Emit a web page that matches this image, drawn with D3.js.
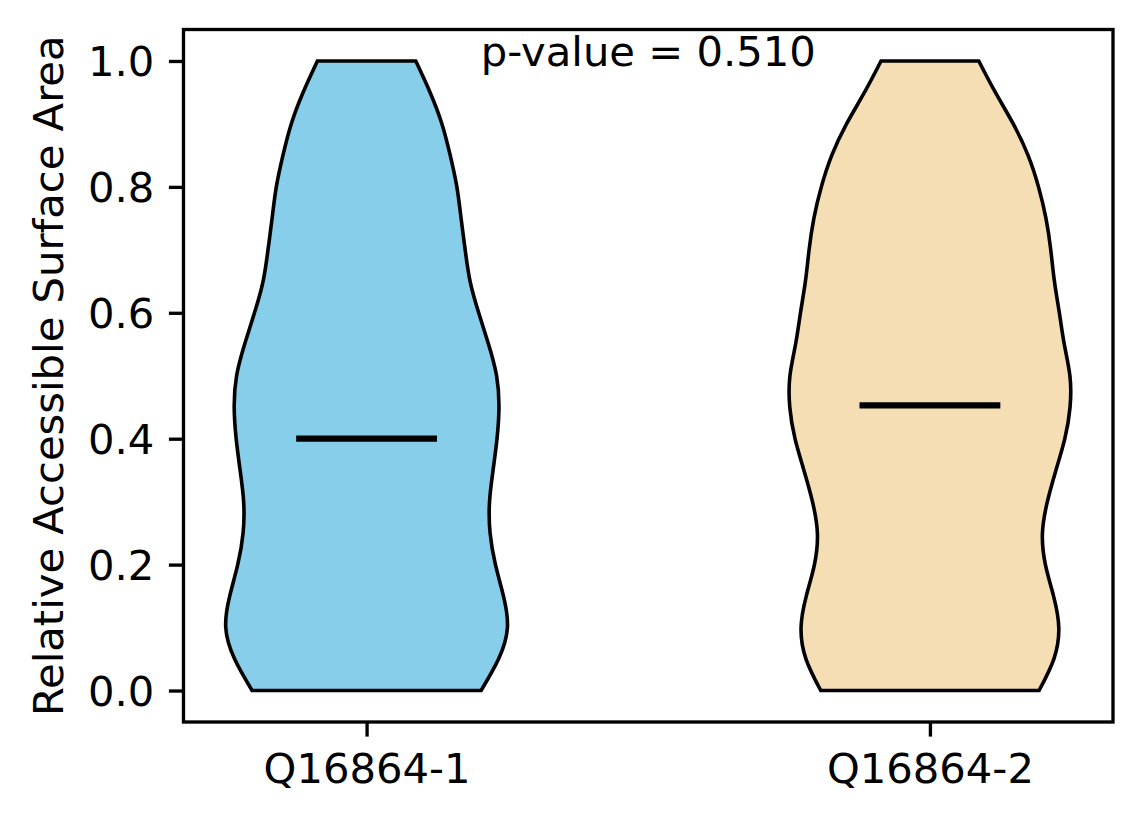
<!DOCTYPE html>
<html>
<head>
<meta charset="utf-8">
<script src="https://cdn.jsdelivr.net/npm/d3@7"></script>
<style>
  html, body { margin: 0; padding: 0; background: #fff; }
  text { font-family: "DejaVu Sans", sans-serif; }
</style>
</head>
<body>
<svg id="chart" width="1144" height="824"></svg>
<script>
// ---- data ----
const categories = ["Q16864-1", "Q16864-2"];
const positions = [1, 2];
const colors = ["#87CEEB", "#F5DEB3"];
// value grid for the violin density outlines
const valueGrid = [0.00,0.05,0.10,0.15,0.20,0.25,0.30,0.35,0.40,0.45,0.50,0.55,0.60,0.65,0.70,0.75,0.80,0.85,0.90,0.95,1.00];
// normalised kernel density (max = 1) at each grid value
const density1 = [0.813,0.937,1.000,0.972,0.915,0.877,0.873,0.898,0.926,0.940,0.923,0.866,0.796,0.735,0.700,0.671,0.641,0.594,0.535,0.451,0.349];
const density2 = [0.775,0.880,0.915,0.878,0.820,0.799,0.834,0.895,0.958,0.995,0.994,0.954,0.919,0.884,0.858,0.824,0.771,0.697,0.592,0.465,0.347];
const medians = [0.400, 0.453];
const yTicks = [0.0, 0.2, 0.4, 0.6, 0.8, 1.0];
const yLabel = "Relative Accessible Surface Area";
const annotation = "p-value = 0.510";

// ---- layout ----
const svg = d3.select("#chart");
const L = 183.5, R = 1113, T = 29.5, B = 722;
const fs = 41.7;
const violinWidth = 0.5;

const x = d3.scaleLinear().domain([0.675, 2.325]).range([L, R]);
const y = d3.scaleLinear().domain([-0.05, 1.05]).range([B, T]);

svg.append("rect").attr("width", 1144).attr("height", 824).attr("fill", "#fff");

const densities = [density1, density2];
const g = svg.append("g");

densities.forEach((dens, i) => {
  const pos = positions[i];
  const pts = valueGrid.map((v, k) => ({ v, d: dens[k] }));
  const area = d3.area()
    .y(d => y(d.v))
    .x0(d => x(pos - violinWidth / 2 * d.d))
    .x1(d => x(pos + violinWidth / 2 * d.d))
    .curve(d3.curveNatural);
  g.append("path")
    .datum(pts)
    .attr("d", area)
    .attr("fill", colors[i])
    .attr("stroke", "#000")
    .attr("stroke-width", 3.6)
    .attr("stroke-linejoin", "miter");
  g.append("line")
    .attr("x1", x(pos - violinWidth / 4)).attr("x2", x(pos + violinWidth / 4))
    .attr("y1", y(medians[i])).attr("y2", y(medians[i]))
    .attr("stroke", "#000").attr("stroke-width", 6.25);
});

// axes
const yAxis = d3.axisLeft(y).tickValues(yTicks).tickFormat(d3.format(".1f"))
  .tickSize(14.6).tickPadding(14.6);
const yg = svg.append("g").attr("transform", `translate(${L},0)`).call(yAxis);
const xAxis = d3.axisBottom(x).tickValues(positions).tickFormat((d, i) => categories[i])
  .tickSize(14.6).tickPadding(14.6);
const xg = svg.append("g").attr("transform", `translate(0,${B})`).call(xAxis);

[yg, xg].forEach(ax => {
  ax.select(".domain").remove();
  ax.selectAll(".tick line").attr("stroke", "#000").attr("stroke-width", 3.33);
  ax.selectAll(".tick text").attr("fill", "#000")
    .style("font-family", '"DejaVu Sans", sans-serif').style("font-size", fs + "px");
});
yg.selectAll(".tick text").attr("dy", "0.36em");
xg.selectAll(".tick text").attr("dy", "0.76em");

// frame
svg.append("rect").attr("x", L).attr("y", T).attr("width", R - L).attr("height", B - T)
  .attr("fill", "none").attr("stroke", "#000").attr("stroke-width", 3.33);

// y label
svg.append("text")
  .attr("transform", `translate(63,${(T + B) / 2}) rotate(-90)`)
  .attr("text-anchor", "middle")
  .style("font-size", fs + "px")
  .attr("fill", "#000")
  .text(yLabel);

// annotation
svg.append("text")
  .attr("x", (L + R) / 2).attr("y", 66)
  .attr("text-anchor", "middle")
  .style("font-size", fs + "px")
  .attr("fill", "#000")
  .text(annotation);
</script>
</body>
</html>
